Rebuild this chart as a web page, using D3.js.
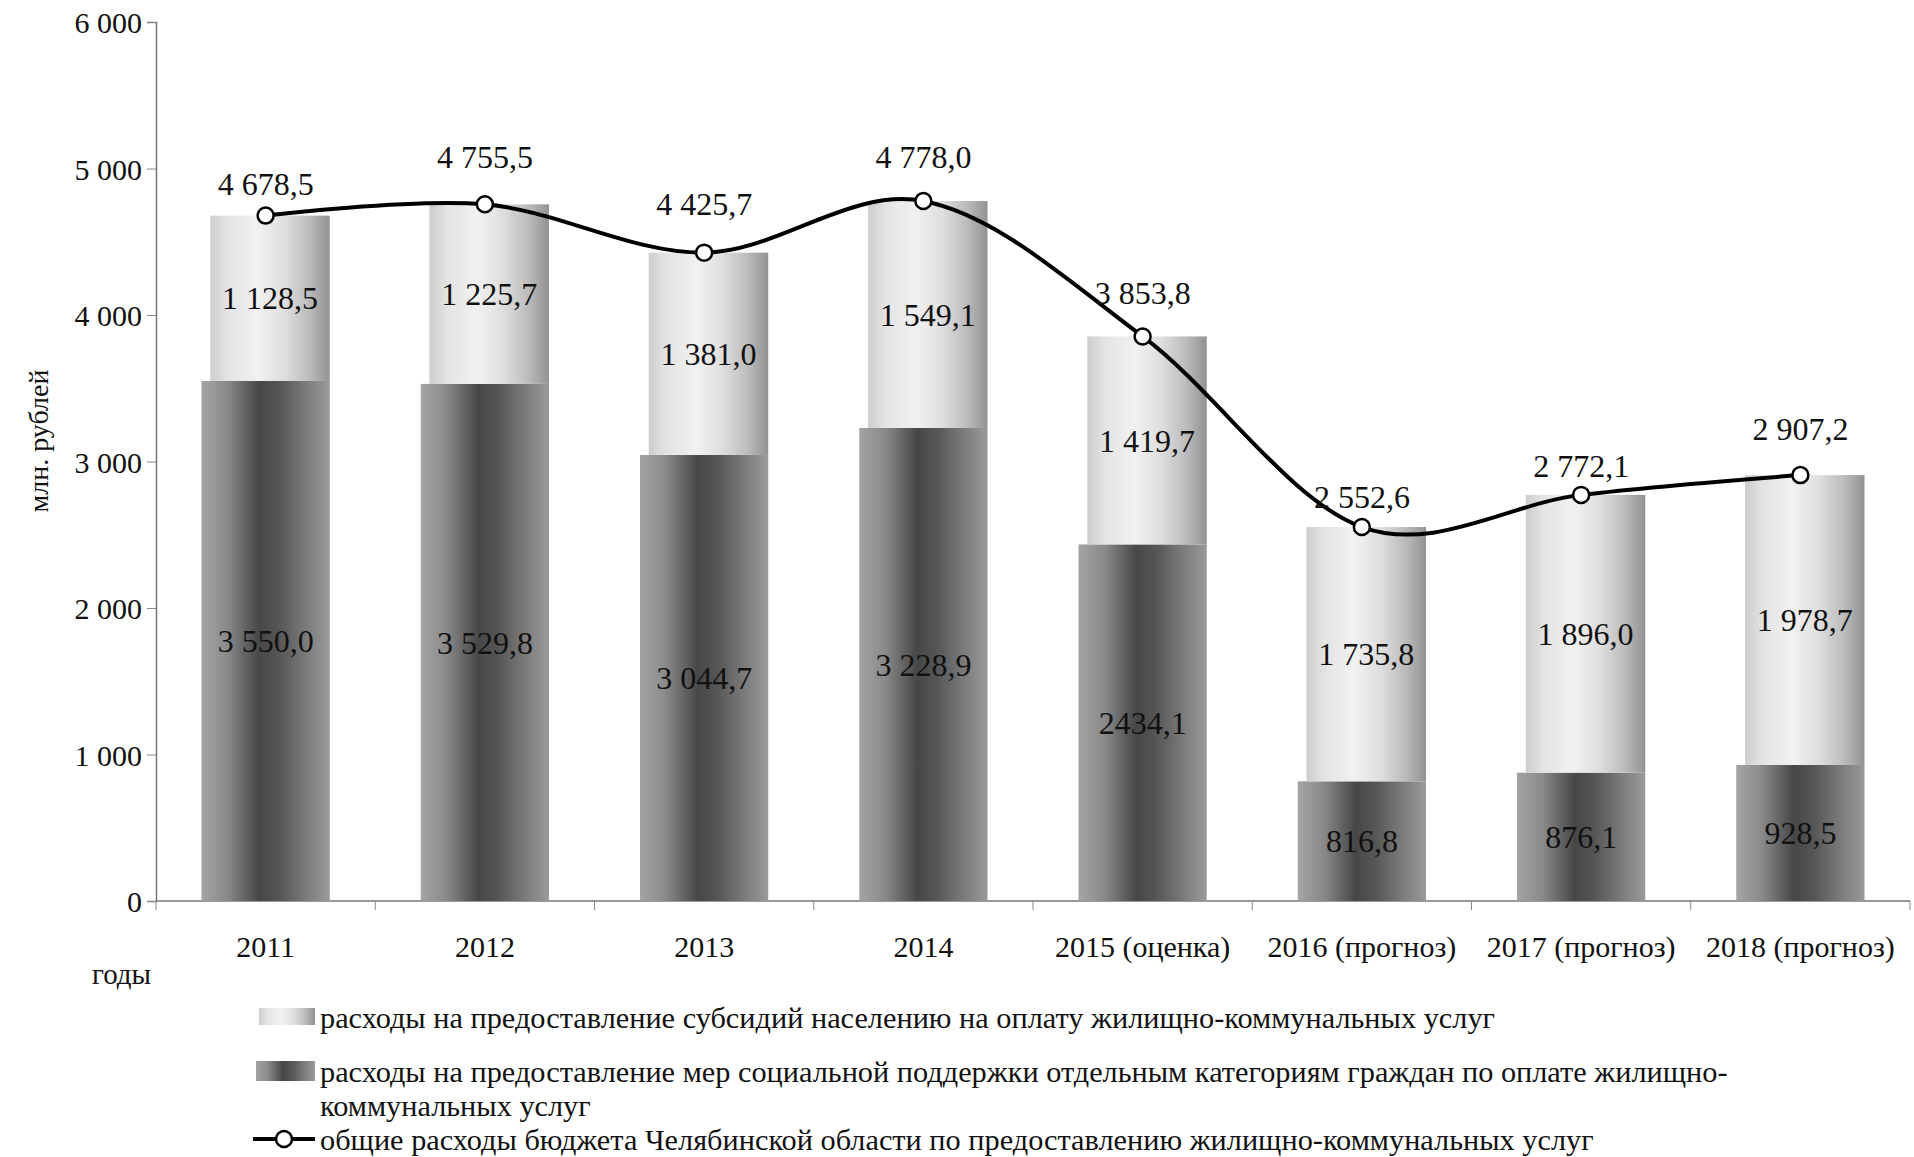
<!DOCTYPE html>
<html>
<head>
<meta charset="utf-8">
<script src="https://cdn.jsdelivr.net/npm/d3@7"></script>
<style>
  body { margin: 0; background: #fff; }
  text { font-family: "Liberation Serif", "DejaVu Serif", serif; fill: #111; }
</style>
</head>
<body>
<div id="chart"></div>
<script>
// data
var categories = ["2011", "2012", "2013", "2014", "2015 (оценка)", "2016 (прогноз)", "2017 (прогноз)", "2018 (прогноз)"];
var socialSupport = [3550.0, 3529.8, 3044.7, 3228.9, 2434.1, 816.8, 876.1, 928.5];
var subsidies = [1128.5, 1225.7, 1381.0, 1549.1, 1419.7, 1735.8, 1896.0, 1978.7];
var totals = [4678.5, 4755.5, 4425.7, 4778.0, 3853.8, 2552.6, 2772.1, 2907.2];
var yTicks = [0, 1000, 2000, 3000, 4000, 5000, 6000];
// the source prints this one label without the thousands space
var ungroupedLabel = ["2015 (оценка)"];
// how far each total label sits above its point (px)
var totalLabelLift = [32, 48, 49, 44, 44, 30, 29, 46];

var legendItems = [
  ["расходы на предоставление субсидий населению на оплату жилищно-коммунальных услуг"],
  ["расходы на предоставление мер социальной поддержки отдельным категориям граждан по оплате жилищно-",
   "коммунальных услуг"],
  ["общие расходы бюджета Челябинской области по предоставлению жилищно-коммунальных услуг"]
];

var W = 1914, H = 1157;
var margin = {top: 22, right: 4, bottom: 256, left: 156},
    width = W - margin.left - margin.right,
    height = H - margin.top - margin.bottom;

var ru = d3.formatLocale({decimal: ",", thousands: " ", grouping: [3], currency: ["", ""]});
var fmt = ru.format(",.1f"), fmtTick = ru.format(",d");

var svg = d3.select("#chart").append("svg")
    .attr("width", W)
    .attr("height", H)
    .style("background", "#fff");

// gradients imitating the shaded columns
var defs = svg.append("defs");
function grad(id, stops) {
  var g = defs.append("linearGradient").attr("id", id)
      .attr("x1", 0).attr("x2", 1).attr("y1", 0).attr("y2", 0);
  stops.forEach(function(s) {
    g.append("stop").attr("offset", s[0]).attr("stop-color", s[1]);
  });
}
grad("lightGrad", [[0, "#cdcdcd"], [0.15, "#e4e4e4"], [0.4, "#f1f1f1"], [0.62, "#dedede"], [0.82, "#bdbdbd"], [1, "#929292"]]);
grad("darkGrad", [[0, "#a4a4a4"], [0.2, "#8a8a8a"], [0.45, "#474747"], [0.6, "#555"], [0.82, "#7c7c7c"], [1, "#9a9a9a"]]);

var g = svg.append("g")
    .attr("transform", "translate(" + margin.left + "," + margin.top + ")");

var x = d3.scaleBand().domain(categories).range([0, width]).padding(0);
var y = d3.scaleLinear().domain([0, 6000]).range([height, 0]);

var step = x.step(),
    darkW = step * 0.585,
    lightW = step * 0.545;

// y axis
var yAxis = g.append("g")
    .call(d3.axisLeft(y).tickValues(yTicks).tickFormat(fmtTick).tickSize(9).tickPadding(5));
yAxis.select(".domain").attr("stroke", "#777").attr("stroke-width", 1.5);
yAxis.selectAll(".tick line").attr("stroke", "#888");
yAxis.selectAll(".tick text").style("font-size", "30px").attr("dy", "0.35em");

// x axis: baseline + ticks on category boundaries
g.append("line")
    .attr("x1", 0).attr("x2", width)
    .attr("y1", height).attr("y2", height)
    .attr("stroke", "#777").attr("stroke-width", 1.5);
g.selectAll(".xtick")
  .data(categories.map(function(c) { return x(c); }).concat([width]))
  .enter().append("line")
    .attr("x1", function(d) { return d; }).attr("x2", function(d) { return d; })
    .attr("y1", height).attr("y2", height + 9)
    .attr("stroke", "#888");
g.selectAll(".xlab")
  .data(categories)
  .enter().append("text")
    .attr("x", function(d) { return x(d) + step / 2; })
    .attr("y", height + 56)
    .attr("text-anchor", "middle")
    .style("font-size", "30px")
    .text(function(d) { return d; });

// axis titles
g.append("text")
    .attr("transform", "translate(" + (38 - margin.left) + "," + (441 - margin.top) + ") rotate(-90)")
    .attr("text-anchor", "middle")
    .attr("dy", "0.35em")
    .style("font-size", "28px")
    .text("млн. рублей");
g.append("text")
    .attr("x", 92 - margin.left)
    .attr("y", height + 83)
    .style("font-size", "29px")
    .text("годы");

// stacked columns
var rows = categories.map(function(c, i) {
  return {cat: c, dark: socialSupport[i], light: subsidies[i], total: totals[i], i: i};
});

g.selectAll(".darkBar")
  .data(rows)
  .enter().append("rect")
    .attr("x", function(d) { return x(d.cat) + (step - darkW) / 2; })
    .attr("y", function(d) { return y(d.dark); })
    .attr("width", darkW)
    .attr("height", function(d) { return y(0) - y(d.dark); })
    .attr("fill", "url(#darkGrad)");

g.selectAll(".lightBar")
  .data(rows)
  .enter().append("rect")
    .attr("x", function(d) { return x(d.cat) + (step + darkW) / 2 - lightW; })
    .attr("y", function(d) { return y(d.dark + d.light); })
    .attr("width", lightW)
    .attr("height", function(d) { return y(d.dark) - y(d.dark + d.light); })
    .attr("fill", "url(#lightGrad)");

// segment labels
g.selectAll(".darkLab")
  .data(rows)
  .enter().append("text")
    .attr("x", function(d) { return x(d.cat) + step / 2; })
    .attr("y", function(d) { return y(d.dark / 2); })
    .attr("dy", "0.35em")
    .attr("text-anchor", "middle")
    .style("font-size", "32px")
    .text(function(d) {
      return ungroupedLabel.indexOf(d.cat) >= 0 ? fmt(d.dark).replace(" ", "") : fmt(d.dark);
    });

g.selectAll(".lightLab")
  .data(rows)
  .enter().append("text")
    .attr("x", function(d) { return x(d.cat) + (step + darkW) / 2 - lightW / 2; })
    .attr("y", function(d) { return y(d.dark + d.light / 2); })
    .attr("dy", "0.35em")
    .attr("text-anchor", "middle")
    .style("font-size", "32px")
    .text(function(d) { return fmt(d.light); });

// smoothed total line
var line = d3.line()
    .x(function(d) { return x(d.cat) + step / 2; })
    .y(function(d) { return y(d.total); })
    .curve(d3.curveCardinal.tension(0));

g.append("path")
    .datum(rows)
    .attr("d", line)
    .attr("fill", "none")
    .attr("stroke", "#000")
    .attr("stroke-width", 4);

g.selectAll(".pt")
  .data(rows)
  .enter().append("circle")
    .attr("cx", function(d) { return x(d.cat) + step / 2; })
    .attr("cy", function(d) { return y(d.total); })
    .attr("r", 8)
    .attr("fill", "#fff")
    .attr("stroke", "#000")
    .attr("stroke-width", 2.5);

g.selectAll(".totLab")
  .data(rows)
  .enter().append("text")
    .attr("x", function(d) { return x(d.cat) + step / 2; })
    .attr("y", function(d) { return y(d.total) - totalLabelLift[d.i]; })
    .attr("dy", "0.35em")
    .attr("text-anchor", "middle")
    .style("font-size", "32px")
    .text(function(d) { return fmt(d.total); });

// legend
var lg = svg.append("g");
var textX = 320, legendFont = "30.3px";
lg.append("rect").attr("x", 259).attr("y", 1008).attr("width", 56).attr("height", 17).attr("fill", "url(#lightGrad)");
lg.append("text").attr("x", textX).attr("y", 1017).attr("dy", "0.35em").style("font-size", legendFont).text(legendItems[0][0]);

lg.append("rect").attr("x", 256).attr("y", 1061).attr("width", 59).attr("height", 20).attr("fill", "url(#darkGrad)");
lg.append("text").attr("x", textX).attr("y", 1071).attr("dy", "0.35em").style("font-size", legendFont).text(legendItems[1][0]);
lg.append("text").attr("x", textX).attr("y", 1105).attr("dy", "0.35em").style("font-size", legendFont).text(legendItems[1][1]);

lg.append("line").attr("x1", 253).attr("x2", 315).attr("y1", 1139).attr("y2", 1139)
    .attr("stroke", "#000").attr("stroke-width", 4);
lg.append("circle").attr("cx", 284).attr("cy", 1139).attr("r", 8)
    .attr("fill", "#fff").attr("stroke", "#000").attr("stroke-width", 2.5);
lg.append("text").attr("x", textX).attr("y", 1139).attr("dy", "0.35em").style("font-size", legendFont).text(legendItems[2][0]);
</script>
</body>
</html>
